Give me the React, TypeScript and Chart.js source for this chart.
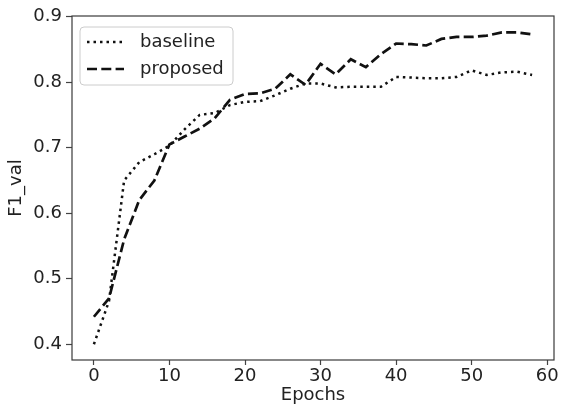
import React, { useEffect, useRef } from "react";
import { Chart, registerables } from "chart.js";

Chart.register(...registerables);

const epochs = [0, 2, 4, 6, 8, 10, 12, 14, 16, 18, 20, 22, 24, 26, 28, 30, 32, 34, 36, 38, 40, 42, 44, 46, 48, 50, 52, 54, 56, 58];
const baseline = [0.400, 0.466, 0.650, 0.678, 0.690, 0.703, 0.728, 0.750, 0.753, 0.765, 0.770, 0.771, 0.780, 0.790, 0.798, 0.798, 0.792, 0.793, 0.793, 0.793, 0.808, 0.807, 0.806, 0.806, 0.808, 0.818, 0.811, 0.815, 0.816, 0.811];
const proposed = [0.442, 0.470, 0.560, 0.620, 0.650, 0.705, 0.717, 0.729, 0.745, 0.773, 0.782, 0.783, 0.790, 0.812, 0.796, 0.828, 0.812, 0.835, 0.823, 0.843, 0.859, 0.858, 0.856, 0.866, 0.869, 0.869, 0.871, 0.876, 0.876, 0.873];
const seriesLabels = ["baseline", "proposed"];
const xTicks = [0, 10, 20, 30, 40, 50, 60];
const yTicks = [0.4, 0.5, 0.6, 0.7, 0.8, 0.9];
const xTitle = "Epochs";
const yTitle = "F1_val";

const FONT = "'DejaVu Sans', sans-serif";
const INK = "#222";
const LINE = "#111";
const DOT = [2.5, 4];
const DASH = [10, 4.3];

const framePlugin = {
  id: "frameLegend",
  afterDatasetsDraw(chart: any) {
    const { ctx, chartArea: a } = chart;
    ctx.save();
    ctx.strokeStyle = "#3a3a3a";
    ctx.lineWidth = 1.2;
    ctx.setLineDash([]);
    ctx.strokeRect(a.left, a.top, a.right - a.left, a.bottom - a.top);

    // legend box
    const bx = 80, by = 27, bw = 153, bh = 58, r = 4;
    ctx.beginPath();
    ctx.moveTo(bx + r, by);
    ctx.lineTo(bx + bw - r, by);
    ctx.quadraticCurveTo(bx + bw, by, bx + bw, by + r);
    ctx.lineTo(bx + bw, by + bh - r);
    ctx.quadraticCurveTo(bx + bw, by + bh, bx + bw - r, by + bh);
    ctx.lineTo(bx + r, by + bh);
    ctx.quadraticCurveTo(bx, by + bh, bx, by + bh - r);
    ctx.lineTo(bx, by + r);
    ctx.quadraticCurveTo(bx, by, bx + r, by);
    ctx.closePath();
    ctx.fillStyle = "rgba(255,255,255,0.8)";
    ctx.fill();
    ctx.strokeStyle = "#cccccc";
    ctx.lineWidth = 1;
    ctx.stroke();

    const rows = [42, 69];
    chart.data.datasets.forEach((ds: any, i: number) => {
      const y = rows[i];
      ctx.beginPath();
      ctx.strokeStyle = ds.borderColor;
      ctx.lineWidth = ds.borderWidth;
      ctx.setLineDash(ds.borderDash);
      ctx.moveTo(87, y);
      ctx.lineTo(124, y);
      ctx.stroke();
      ctx.setLineDash([]);
      ctx.fillStyle = INK;
      ctx.font = `18px ${FONT}`;
      ctx.textAlign = "left";
      ctx.textBaseline = "middle";
      ctx.fillText(ds.label, 140, y);
    });
    ctx.restore();
  },
};

export default function App() {
  const ref = useRef<HTMLCanvasElement | null>(null);

  useEffect(() => {
    document.body.style.margin = "0";
    const canvas = ref.current;
    if (!canvas) return;
    const chart = new Chart(canvas, {
      type: "line",
      data: {
        datasets: [
          {
            label: seriesLabels[0],
            data: epochs.map((e, i) => ({ x: e, y: baseline[i] })),
            borderColor: LINE,
            borderWidth: 2.5,
            borderDash: DOT,
            borderCapStyle: "butt",
            pointRadius: 0,
            tension: 0,
            fill: false,
          },
          {
            label: seriesLabels[1],
            data: epochs.map((e, i) => ({ x: e, y: proposed[i] })),
            borderColor: LINE,
            borderWidth: 2.7,
            borderDash: DASH,
            borderCapStyle: "butt",
            pointRadius: 0,
            tension: 0,
            fill: false,
          },
        ],
      },
      options: {
        animation: false,
        responsive: false,
        devicePixelRatio: 1,
        layout: { padding: { left: 0, top: 16, right: 7, bottom: 0 } },
        plugins: {
          legend: { display: false },
          tooltip: { enabled: false },
        },
        scales: {
          x: {
            type: "linear",
            min: -2.9,
            max: 60.9,
            afterBuildTicks: (s: any) => {
              s.ticks = xTicks.map((v) => ({ value: v }));
            },
            afterFit: (s: any) => {
              s.height = 48;
            },
            grid: {
              display: true,
              drawOnChartArea: false,
              drawTicks: true,
              tickLength: 5,
              tickColor: "#444",
              tickWidth: 1.2,
            },
            border: { display: false },
            ticks: {
              autoSkip: false,
              maxRotation: 0,
              padding: 1,
              color: INK,
              font: { family: FONT, size: 18 },
              callback: (v: any) => String(v),
            },
            title: {
              display: true,
              text: xTitle,
              color: INK,
              font: { family: FONT, size: 18 },
              padding: { top: 0, bottom: 2 },
            },
          },
          y: {
            type: "linear",
            min: 0.376,
            max: 0.901,
            afterBuildTicks: (s: any) => {
              s.ticks = yTicks.map((v) => ({ value: v }));
            },
            afterFit: (s: any) => {
              s.width = 72;
            },
            grid: {
              display: true,
              drawOnChartArea: false,
              drawTicks: true,
              tickLength: 6,
              tickColor: "#444",
              tickWidth: 1.2,
            },
            border: { display: false },
            ticks: {
              autoSkip: false,
              padding: 4,
              color: INK,
              font: { family: FONT, size: 18 },
              callback: (v: any) => Number(v).toFixed(1),
            },
            title: {
              display: true,
              text: yTitle,
              color: INK,
              font: { family: FONT, size: 18 },
              padding: { top: 6, bottom: 0 },
            },
          },
        },
      },
      plugins: [framePlugin],
    });
    return () => chart.destroy();
  }, []);

  return (
    <div style={{ position: "fixed", left: 0, top: 0, width: 561, height: 408, background: "#fff" }}>
      <canvas ref={ref} width={561} height={408} style={{ width: 561, height: 408, display: "block" }} />
    </div>
  );
}
